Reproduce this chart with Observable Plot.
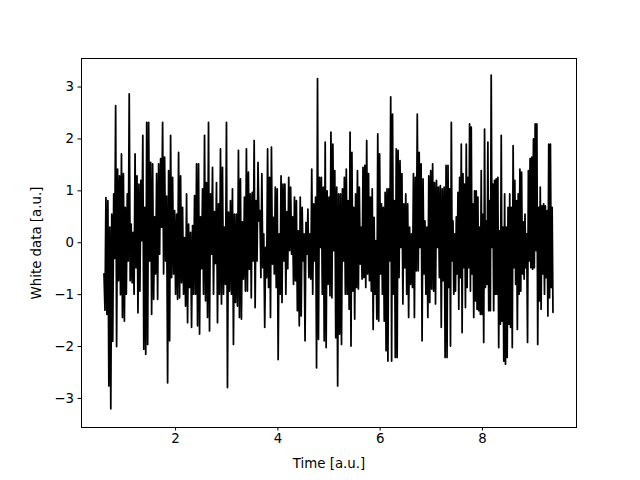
<!DOCTYPE html>
<html>
<head>
<meta charset="utf-8">
<script src="https://cdn.jsdelivr.net/npm/d3@7"></script>
<script src="https://cdn.jsdelivr.net/npm/@observablehq/plot@0.6"></script>
<style>
  html, body { margin: 0; padding: 0; background: white; }
</style>
</head>
<body>
<div id="chart"></div>
<script>
// Segment boundaries along the time axis (a.u.)
const segBounds = [0.6, 1.473, 2.449, 3.424, 4.4, 5.376, 6.351, 7.327, 8.302, 9.38];

// White-noise values, segment by segment
const seg1 = [-0.60,-1.30, 0.87,-1.38, 0.81,-2.76, 0.30,-3.20, 0.55,-1.90, 0.94,-0.30, 2.64,-2.00, 1.42,-0.73, 1.29,-1.00, 1.71,-1.44, 1.33,-1.51, 0.68,-0.99, 0.94,-0.35, 2.87,-0.73, 0.36,-0.77, 0.20,-0.99, 1.71,-0.48, 1.29,-1.35, 1.13,-0.93, 1.20,0.04, 2.07,-2.05, 0.68,-2.15, 2.32,-1.96];
const seg2 = [2.32,-0.35, 1.55,-1.38, 1.52,-1.09, 0.50,-0.60, 1.33,-1.09, 1.52,-0.22, 1.62,0.30, 2.32,-0.60, 1.65,-0.35, 0.90,-2.70, 1.39,-1.89, 2.07,-0.67, 1.26,-0.60, 0.62,-0.99, 0.55,-1.09, 1.74,-1.06, 1.29,-0.77, 0.68,-0.99, 0.10,-1.22, 0.94,-1.54, 0.36,-0.86, 0.20,-1.63, 0.33,-0.99, 0.91,-0.99, 1.52,-1.60];
const seg3 = [1.52,-1.76, 0.50,-0.50, 1.04,-0.99, 2.07,-1.12, 1.16,-1.44, 2.32,-1.70, 0.94,-0.22, 1.45,-0.99, 0.60,-0.40, 1.16,-1.54, 0.75,-0.99, 1.81,-1.18, 1.45,-0.99, 0.30,-0.80, 2.32,-2.79, 0.59,-0.93, 0.81,-0.99, 1.04,-1.96, 0.55,-1.15, 0.55,-1.22, 1.78,-1.44, 1.23,-1.47, 0.40,-0.70, 0.88,-0.93, 1.81,-0.93];
const seg4 = [1.36,-0.51, 0.94,-1.06, 0.97,-0.35, 1.97,-1.25, 0.81,-0.35, 1.55,0.42, 0.62,-0.67, 1.33,-0.48, 0.17,-1.63, -0.09,-0.67, 1.81,-0.86, 1.26,-1.44, 1.84,-0.41, 0.49,-0.60, 1.07,-0.86, 1.04,-2.25, 0.17,-0.99, 1.29,-1.15, 1.13,-0.35, 1.13,-0.99, 0.60,-0.50, 1.26,-0.15, 1.07,-0.22, 0.50,-0.80, 0.88,-0.73, 0.81,-1.31];
const seg5 = [0.23,-1.60, 0.88,-1.41, 0.68,-0.35, 0.17,-1.89, 0.39,-0.22, 0.65,-0.67, 0.17,-0.70, 1.42,-0.99, 0.75,-0.35, 0.88,-2.41, 3.16,-1.86, 1.26,-0.09, 1.26,-0.99, 1.07,-1.89, 1.94,-2.02, 1.00,-0.80, 0.88,-1.02, 2.13,-1.06, 1.90,-0.15, 1.39,-1.83, 1.07,-2.76, 0.94,-1.76, 0.94,-1.96, 1.04,-0.35, 1.26,-0.99, 1.42,-0.99];
const seg6 = [0.81,-1.28, 2.13,-1.99, 1.74,-0.93, 0.68,-1.47, 0.94,-0.86, 1.39,-0.89, 1.07,-0.41, 0.30,-0.70, 1.45,-0.67, 1.49,-0.86, 1.97,-0.60, 1.33,-0.73, 0.88,-0.93, 1.04,-1.67, 0.49,-0.99, 0.04,-1.47, 2.10,-1.51, 1.71,-0.60, 0.75,-0.99, 0.68,-1.51, 0.97,-2.08, 1.04,-2.28, 1.04,-0.35, 2.81,-2.28, 2.48,-0.99, 0.81,-2.21, 1.81,-2.21];
const seg7 = [1.78,-0.67, 1.58,-0.09, 1.33,-1.18, 0.75,-0.48, 0.94,-0.99, 0.75,-1.44, 0.30,-0.80, 0.17,-0.86, 1.33,-1.44, 1.26,-0.54, 2.48,-0.54, 1.74,-0.09, 1.52,-1.89, 1.23,-0.60, 0.42,-0.99, 0.30,-1.44, 1.29,-1.15, 1.39,-0.89, 1.52,-0.93, 1.16,-1.18, 1.20,-0.09, 1.07,-0.67, 1.10,-1.63, 1.04,-0.73, 1.07,-2.21, 1.49,-2.21];
const seg8 = [1.49,-0.86, 1.04,-1.99, 2.32,-0.35, 0.42,-0.99, 0.17,-0.93, 0.50,-0.60, 0.97,-1.28, 1.26,-0.67, 1.90,-1.73, 1.33,-0.48, 1.13,-1.25, 1.90,-0.86, 1.26,-0.48, 2.29,-0.93, 2.23,-0.60, 0.75,-1.44, 1.00,-1.12, 1.00,-1.28, 0.88,-1.31, 0.30,-1.38, 1.39,-1.38, 0.55,-1.92, 2.19,-0.86, 0.42,-0.80, 1.94,-1.31, 0.81,-1.31, 3.23,-0.09, 1.13,-1.31, 1.20,-0.99, 1.23,-0.99];
const seg9 = [1.26,-2.02, 0.23,-1.57, 2.07,-1.51, 0.30,-2.28, 0.94,-2.34, 0.30,-2.21, 0.68,-1.57, 0.94,-1.63, 0.68,-2.02, 1.87,-0.48, 1.20,-0.80, 0.81,-1.67, 0.94,-0.99, 1.42,-0.93, 1.36,-0.60, 0.40,-0.70, 0.55,-0.48, 0.17,-1.92, 1.39,-0.35, 1.62,-0.48, 1.65,-0.51, 2.00,-0.48, 2.29,-0.15, 2.29,-1.96, 0.68,-1.12, 1.07,-1.28, 0.71,-0.60, 0.75,-0.99, 0.71,-0.67, 0.62,-1.41, 1.90,-1.06, 1.90,-0.86, 0.68,-1.34];

const segments = [seg1, seg2, seg3, seg4, seg5, seg6, seg7, seg8, seg9];

const xTicks = [2, 4, 6, 8];
const yTicks = [-3, -2, -1, 0, 1, 2, 3];
const xLabel = "Time [a.u.]";
const yLabel = "White data [a.u.]";

// Build the table: evenly spaced samples inside each segment
const data = [];
segments.forEach((seg, k) => {
  const t0 = segBounds[k], t1 = segBounds[k + 1];
  const last = k === segments.length - 1;
  const n = last ? seg.length - 1 : seg.length;
  seg.forEach((v, i) => data.push({t: t0 + i * (t1 - t0) / n, v}));
});

const chart = Plot.plot({
  width: 640,
  height: 480,
  marginLeft: 81,
  marginRight: 64,
  marginTop: 58,
  marginBottom: 53,
  style: {fontFamily: "DejaVu Sans", fontSize: "13.33px", background: "white", color: "black"},
  x: {domain: [0.16, 9.84]},
  y: {domain: [-3.56, 3.55]},
  marks: [
    Plot.line(data, {x: "t", y: "v", stroke: "black", strokeWidth: 1.75}),
    Plot.frame({stroke: "black", strokeWidth: 1}),
    Plot.axisX({ticks: xTicks, tickSize: 3.5, tickPadding: 3, label: xLabel, labelAnchor: "center", labelArrow: "none", labelOffset: 40, stroke: "black"}),
    Plot.axisY({ticks: yTicks, tickSize: 3.5, tickPadding: 4, label: yLabel, labelAnchor: "center", labelArrow: "none", labelOffset: 50, stroke: "black"})
  ]
});
document.getElementById("chart").appendChild(chart);
</script>
</body>
</html>
